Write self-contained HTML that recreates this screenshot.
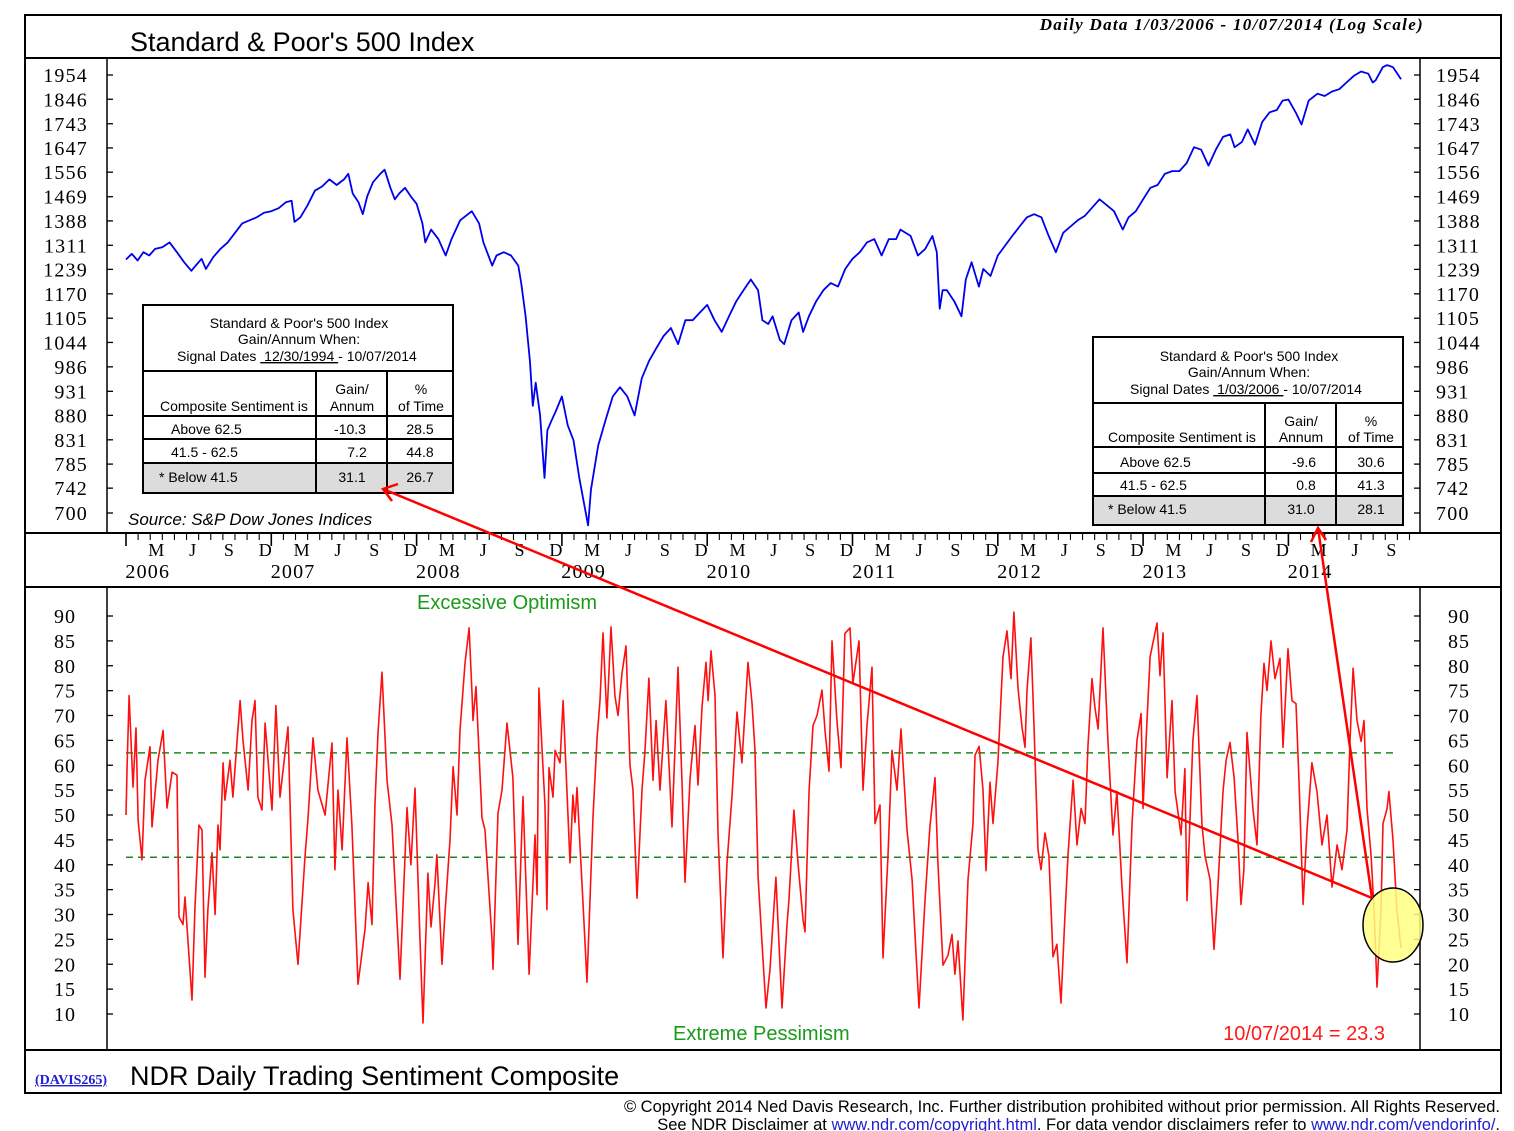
<!DOCTYPE html>
<html><head><meta charset="utf-8">
<style>
html,body{margin:0;padding:0;background:#fff;}
svg{display:block;}
text{font-family:"Liberation Sans",Arial,sans-serif;}
.serif{font-family:"Liberation Serif","Times New Roman",serif;}
</style></head>
<body>
<svg id="chart" width="1514" height="1131" viewBox="0 0 1514 1131" xmlns="http://www.w3.org/2000/svg">
<rect x="0" y="0" width="1514" height="1131" fill="#fff"/>
<rect x="25" y="15" width="1476" height="1078" fill="none" stroke="#000" stroke-width="2"/>
<line x1="25" y1="58" x2="1501" y2="58" stroke="#000" stroke-width="2"/>
<line x1="25" y1="533" x2="1501" y2="533" stroke="#000" stroke-width="2"/>
<line x1="25" y1="587" x2="1501" y2="587" stroke="#000" stroke-width="2"/>
<line x1="25" y1="1050" x2="1501" y2="1050" stroke="#000" stroke-width="2"/>
<line x1="107" y1="58" x2="107" y2="533" stroke="#000" stroke-width="1.5"/>
<line x1="1420" y1="58" x2="1420" y2="533" stroke="#000" stroke-width="1.5"/>
<line x1="107" y1="587" x2="107" y2="1050" stroke="#000" stroke-width="1.5"/>
<line x1="1420" y1="587" x2="1420" y2="1050" stroke="#000" stroke-width="1.5"/>

<text x="130" y="51" font-size="27">Standard &amp; Poor's 500 Index</text>
<text class="serif" x="1424" y="30" font-size="17" font-style="italic" font-weight="bold" text-anchor="end" letter-spacing="1.3">Daily Data 1/03/2006 - 10/07/2014 (Log Scale)</text>

<g id="topAxes"></g>
<g id="dateAxis"></g>
<g id="botAxes"></g>

<line id="th1" x1="126" x2="1397" stroke="#1a8a1a" stroke-width="1.5" stroke-dasharray="7,5"/>
<line id="th2" x1="126" x2="1397" stroke="#1a8a1a" stroke-width="1.5" stroke-dasharray="7,5"/>

<path id="spxLine" fill="none" stroke="#0000ee" stroke-width="1.8" stroke-linejoin="round"/>
<path id="sentLine" fill="none" stroke="#ff1010" stroke-width="1.6" stroke-linejoin="round"/>

<text x="417" y="609" font-size="20" fill="#1a9a1a">Excessive Optimism</text>
<text x="673" y="1040" font-size="20" fill="#1a9a1a">Extreme Pessimism</text>
<text x="1385" y="1040" font-size="20" fill="#ff1a1a" text-anchor="end">10/07/2014 = 23.3</text>
<text x="128" y="525" font-size="17" font-style="italic">Source: S&amp;P Dow Jones Indices</text>

<g font-size="14">
<rect x="143" y="463" width="310" height="30" fill="#dcdcdc"/>
<rect x="143" y="305" width="310" height="188" fill="none" stroke="#000" stroke-width="2"/>
<line x1="143" y1="371" x2="453" y2="371" stroke="#000" stroke-width="2"/>
<line x1="143" y1="416" x2="453" y2="416" stroke="#000" stroke-width="2"/>
<line x1="143" y1="439" x2="453" y2="439" stroke="#000" stroke-width="2"/>
<line x1="143" y1="463" x2="453" y2="463" stroke="#000" stroke-width="2"/>
<line x1="316" y1="371" x2="316" y2="493" stroke="#000" stroke-width="2"/>
<line x1="387" y1="371" x2="387" y2="493" stroke="#000" stroke-width="2"/>
<text x="299" y="328" text-anchor="middle">Standard &amp; Poor's 500 Index</text>
<text x="299" y="344" text-anchor="middle">Gain/Annum When:</text>
<text x="177" y="361">Signal Dates <tspan text-decoration="underline">&#160;12/30/1994&#160;</tspan>- 10/07/2014</text>
<text x="160" y="411">Composite Sentiment is</text>
<text x="352" y="394" text-anchor="middle">Gain/</text>
<text x="352" y="411" text-anchor="middle">Annum</text>
<text x="421" y="394" text-anchor="middle">%</text>
<text x="421" y="411" text-anchor="middle">of Time</text>
<text x="171" y="434">Above 62.5</text><text x="350" y="434" text-anchor="middle">-10.3</text><text x="420" y="434" text-anchor="middle">28.5</text>
<text x="171" y="457">41.5 - 62.5</text><text x="357" y="457" text-anchor="middle">7.2</text><text x="420" y="457" text-anchor="middle">44.8</text>
<text x="159" y="482">* Below 41.5</text><text x="352" y="482" text-anchor="middle">31.1</text><text x="420" y="482" text-anchor="middle">26.7</text>
</g>
<g font-size="14">
<rect x="1093" y="496" width="310" height="29" fill="#dcdcdc"/>
<rect x="1093" y="337" width="310" height="188" fill="none" stroke="#000" stroke-width="2"/>
<line x1="1093" y1="403" x2="1403" y2="403" stroke="#000" stroke-width="2"/>
<line x1="1093" y1="447" x2="1403" y2="447" stroke="#000" stroke-width="2"/>
<line x1="1093" y1="473" x2="1403" y2="473" stroke="#000" stroke-width="2"/>
<line x1="1093" y1="496" x2="1403" y2="496" stroke="#000" stroke-width="2"/>
<line x1="1265" y1="403" x2="1265" y2="525" stroke="#000" stroke-width="2"/>
<line x1="1336" y1="403" x2="1336" y2="525" stroke="#000" stroke-width="2"/>
<text x="1249" y="361" text-anchor="middle">Standard &amp; Poor's 500 Index</text>
<text x="1249" y="377" text-anchor="middle">Gain/Annum When:</text>
<text x="1130" y="394">Signal Dates <tspan text-decoration="underline">&#160;1/03/2006&#160;</tspan>- 10/07/2014</text>
<text x="1108" y="442">Composite Sentiment is</text>
<text x="1301" y="426" text-anchor="middle">Gain/</text>
<text x="1301" y="442" text-anchor="middle">Annum</text>
<text x="1371" y="426" text-anchor="middle">%</text>
<text x="1371" y="442" text-anchor="middle">of Time</text>
<text x="1120" y="467">Above 62.5</text><text x="1304" y="467" text-anchor="middle">-9.6</text><text x="1371" y="467" text-anchor="middle">30.6</text>
<text x="1120" y="490">41.5 - 62.5</text><text x="1306" y="490" text-anchor="middle">0.8</text><text x="1371" y="490" text-anchor="middle">41.3</text>
<text x="1108" y="514">* Below 41.5</text><text x="1301" y="514" text-anchor="middle">31.0</text><text x="1371" y="514" text-anchor="middle">28.1</text>
</g>

<ellipse cx="1393" cy="925" rx="30" ry="37" fill="#ffff80" fill-opacity="0.85" stroke="#000" stroke-width="1.5"/>
<g stroke="#ff0000" stroke-width="2.5" fill="none">
<line x1="1372" y1="898" x2="383" y2="489"/>
<polyline points="398,484 383,489 392,501"/>
<line x1="1372" y1="898" x2="1318" y2="528"/>
<polyline points="1311,542 1318,528 1326,540"/>
</g>

<text class="serif" x="35" y="1084" font-size="14" font-weight="bold" fill="#2020d0" text-decoration="underline">(DAVIS265)</text>
<text x="130" y="1085" font-size="27">NDR Daily Trading Sentiment Composite</text>
<text x="1500" y="1112" font-size="16.5" text-anchor="end">© Copyright 2014 Ned Davis Research, Inc.  Further distribution prohibited without prior permission.  All Rights Reserved.</text>
<text x="1500" y="1130" font-size="16.5" text-anchor="end">See NDR Disclaimer at <tspan fill="#2020d0" text-decoration="underline">www.ndr.com/copyright.html</tspan>. For data vendor disclaimers refer to <tspan fill="#2020d0" text-decoration="underline">www.ndr.com/vendorinfo/</tspan>.</text>
</svg>
<script>
// ---- data ----
const spxTicks = [1954,1846,1743,1647,1556,1469,1388,1311,1239,1170,1105,1044,986,931,880,831,785,742,700];
const sentTicks = [90,85,80,75,70,65,60,55,50,45,40,35,30,25,20,15,10];
const thresholds = [62.5, 41.5];
const yearLabels = ["2006","2007","2008","2009","2010","2011","2012","2013","2014"];
const monthLabels = ["M","J","S","D"];
// S&P 500 (years since 2006-01-01, level)
const spxDates = [0,.04,.08,.12,.16,.2,.25,.3,.35,.4,.45,.48,.52,.55,.6,.65,.7,.75,.8,.85,.9,.95,
1,1.05,1.1,1.14,1.16,1.2,1.25,1.3,1.35,1.4,1.45,1.5,1.53,1.56,1.6,1.63,1.66,1.7,1.75,1.78,1.82,1.85,1.88,1.92,1.96,
2,2.04,2.06,2.1,2.15,2.2,2.24,2.3,2.38,2.43,2.46,2.52,2.55,2.6,2.65,2.7,2.72,2.75,2.78,2.8,2.82,2.85,2.88,2.9,2.93,2.96,
3,3.04,3.08,3.12,3.18,3.2,3.25,3.3,3.35,3.4,3.45,3.5,3.55,3.6,3.65,3.7,3.75,3.8,3.85,3.9,3.95,
4,4.05,4.1,4.15,4.2,4.25,4.3,4.35,4.38,4.42,4.45,4.5,4.53,4.58,4.63,4.66,4.7,4.75,4.8,4.85,4.9,4.95,
5,5.05,5.1,5.15,5.2,5.25,5.3,5.33,5.4,5.45,5.5,5.55,5.58,5.6,5.62,5.65,5.7,5.75,5.78,5.82,5.87,5.9,5.95,
6,6.05,6.1,6.15,6.2,6.25,6.3,6.35,6.4,6.45,6.5,6.55,6.6,6.7,6.75,6.8,6.86,6.9,6.95,
7,7.05,7.1,7.15,7.2,7.25,7.3,7.35,7.4,7.45,7.5,7.55,7.6,7.63,7.68,7.72,7.77,7.82,7.87,7.92,7.96,
8,8.05,8.09,8.14,8.2,8.25,8.3,8.35,8.4,8.45,8.5,8.55,8.58,8.6,8.65,8.68,8.72,8.75,8.775];
const spxValues = [1268,1285,1265,1290,1280,1300,1305,1320,1290,1260,1235,1250,1270,1240,1275,1300,1320,1350,1380,1390,1400,1415,
1420,1430,1450,1455,1385,1400,1440,1490,1505,1530,1510,1530,1550,1480,1450,1410,1470,1520,1550,1565,1500,1460,1480,1500,1470,
1445,1380,1320,1360,1330,1280,1330,1390,1420,1380,1320,1250,1280,1290,1280,1250,1200,1110,1000,900,950,880,760,850,870,890,
920,860,830,760,680,740,820,870,920,940,920,880,960,1000,1030,1060,1080,1040,1100,1100,1120,
1140,1100,1070,1110,1150,1180,1210,1180,1100,1090,1110,1050,1040,1100,1120,1070,1110,1150,1180,1200,1190,1240,
1270,1290,1320,1330,1280,1330,1330,1360,1340,1280,1300,1340,1290,1130,1180,1180,1150,1110,1210,1260,1190,1240,1220,
1280,1310,1340,1370,1400,1410,1400,1340,1290,1350,1370,1390,1405,1460,1440,1420,1360,1400,1420,
1460,1500,1510,1550,1560,1560,1590,1650,1640,1580,1640,1690,1700,1650,1670,1720,1660,1750,1790,1800,1840,
1845,1790,1740,1840,1870,1860,1880,1890,1920,1950,1970,1960,1920,1930,1990,2000,1990,1960,1935];
// Sentiment composite (years since 2006-01-01, value)
const sentDates = [0,.007,.021,.048,.069,.083,.11,.131,.165,.179,.22,.255,.282,.317,.351,.365,.392,.406,.454,.475,.502,.523,.544,.564,.592,.613,.633,.647,.668,.681,.716,.736,.764,.785,.805,.84,.867,.888,.908,.936,.957,
1.005,1.032,1.06,1.115,1.149,1.184,1.232,1.253,1.287,1.321,1.37,1.418,1.438,1.459,1.487,1.521,1.555,1.597,1.645,1.666,1.693,1.714,1.734,1.762,1.796,1.831,1.886,1.92,1.934,1.961,1.989,
2.023,2.044,2.078,2.099,2.127,2.14,2.175,2.195,2.23,2.251,2.278,2.299,2.333,2.361,2.381,2.388,2.409,2.45,2.471,2.519,2.526,2.56,2.588,2.622,2.663,2.698,2.732,2.774,2.815,2.829,2.842,2.884,2.897,2.911,2.939,2.953,2.987,
3.008,3.056,3.076,3.09,3.104,3.145,3.173,3.214,3.242,3.262,3.283,3.31,3.338,3.365,3.386,3.414,3.441,3.469,3.489,3.517,3.551,3.572,3.599,3.627,3.648,3.675,3.716,3.758,3.799,3.827,3.847,3.882,3.916,3.937,3.964,3.992,
4.006,4.026,4.054,4.074,4.109,4.136,4.171,4.205,4.239,4.281,4.308,4.329,4.35,4.384,4.405,4.432,4.473,4.515,4.549,4.563,4.597,4.625,4.659,4.673,4.701,4.728,4.756,4.79,4.811,4.838,4.859,4.893,4.921,4.948,4.983,
5.003,5.045,5.072,5.1,5.134,5.155,5.189,5.21,5.244,5.272,5.306,5.334,5.375,5.41,5.43,5.458,5.499,5.533,5.568,5.588,5.623,5.657,5.685,5.705,5.726,5.76,5.795,5.829,5.843,5.871,5.898,5.919,5.946,5.967,
6.001,6.036,6.063,6.091,6.111,6.139,6.167,6.187,6.201,6.228,6.249,6.277,6.297,6.325,6.352,6.38,6.407,6.435,6.462,6.483,6.518,6.545,6.573,6.6,6.621,6.648,6.669,6.69,6.724,6.758,6.793,6.82,6.855,6.889,6.924,6.958,6.986,6.999,
7.027,7.048,7.096,7.116,7.137,7.165,7.199,7.22,7.233,7.261,7.288,7.302,7.343,7.371,7.405,7.426,7.461,7.488,7.515,7.55,7.571,7.598,7.626,7.653,7.674,7.694,7.715,7.756,7.784,7.811,7.832,7.853,7.88,7.908,7.942,7.963,7.997,
8.025,8.052,8.073,8.101,8.128,8.162,8.197,8.231,8.266,8.3,8.335,8.369,8.403,8.424,8.445,8.472,8.5,8.52,8.541,8.569,8.589,8.61,8.637,8.651,8.679,8.692,8.72,8.747,8.775];
const sentValues = [50,59,74,55.6,67.5,49,41,57,63.7,47.6,61,67,51.4,58.6,58,29.5,28,33.5,12.8,31.5,48,47,17.4,31,42.4,30,48,43,60.5,53,61,53.6,64.7,73,65,55,69,73,53.6,51,68.5,
51,72,53.6,67.7,31,20,41.6,49.6,65.5,55,50,64.5,39,55,43,65.5,48,16,27,36.4,28,52.4,66.5,78.7,57,48,17,41.6,51.5,40,55.4,
25.5,8.2,38.3,27.5,36.5,42,20,30,45,59.7,50,67,80.5,87.6,74.5,69,75.8,49.4,47,25,19,50.4,55,68.5,57.5,24,53.7,18,46,34,75.5,51.8,31,59.5,53.6,63,60.5,
73,40.4,54,48.5,55.5,32.3,16.4,49.6,65.6,73,86.6,69.5,87.8,74,70,78.7,84,60,55,33.3,55,63,77.5,57,69,55,73,47.6,79.7,56,36.5,57.5,68,56,71.7,80.7,
73,83,74,46.4,21.3,40.4,53.8,70.7,60.5,80.7,72.5,63,37.5,21,11.2,19,37.5,11.2,28,33,51,40.4,29,26.5,55,68,70,75.1,67,58.8,85,68.8,59.5,86.5,87.6,
76.5,85,55,68,79.7,48.3,52,21.3,41.8,63,55,67.3,47,37,26,11.2,32.8,47.6,57.5,40.4,19.8,21.8,26,18,24.7,8.8,37,48.3,62,63.8,55,38.8,56.6,48.3,
60.5,81.8,87,77.4,90.8,75.5,67.5,63.6,75,85.6,68,43,39,46.4,41.8,21.5,24,12.2,29.6,42,57,44,51.3,48.3,64,77.4,71.5,67.3,87.6,65,46,54.7,35.5,20.3,48.6,65,70.4,51.3,
69,81.8,88.6,78,86.6,57.5,73,54.7,52,46,59.3,32.8,65,74,48.3,41.8,37,23,35.5,54.7,61,64.6,57.5,45,32,39,66.6,51.3,44,70,80.5,75,85,77.4,81.5,63.6,83.4,
73,72.4,56.8,32,47,60.5,54.7,44,50,35.5,44,39,47,65,79.5,69,64.8,69,51.3,41.8,31,15.4,31,48.3,51.3,54.7,45,31,23.3];

// ---- scales ----
const X0 = 126, PX_PER_YEAR = 145.3;
function xScale(t){ return X0 + t * PX_PER_YEAR; }
const SPX_TOP = 1954, SPX_BOT = 700, SPX_Y0 = 75, SPX_Y1 = 513;
function ySpx(p){ return SPX_Y0 + (Math.log(SPX_TOP) - Math.log(p)) / (Math.log(SPX_TOP) - Math.log(SPX_BOT)) * (SPX_Y1 - SPX_Y0); }
const SENT_TOP = 90, SENT_BOT = 10, SENT_Y0 = 616, SENT_Y1 = 1014;
function ySent(v){ return SENT_Y0 + (SENT_TOP - v) / (SENT_TOP - SENT_BOT) * (SENT_Y1 - SENT_Y0); }

const NS = "http://www.w3.org/2000/svg";
function mk(tag, attrs, parent){ const e = document.createElementNS(NS, tag); for (const k in attrs) e.setAttribute(k, attrs[k]); parent.appendChild(e); return e; }

const topG = document.getElementById('topAxes');
spxTicks.forEach(v => {
  const y = ySpx(v);
  const tl = mk('line', {x1:107, x2:113, y1:y, y2:y, stroke:'#000', 'stroke-width':1.3}, topG);
  
  
  const tr = mk('line', {x1:1414, x2:1420, y1:y, y2:y, stroke:'#000', 'stroke-width':1.3}, topG);
  
  
  const a = mk('text', {x:88, y:y+7, 'font-size':20, 'text-anchor':'end', class:'serif', 'letter-spacing':'1.2'}, topG);
  a.textContent = v;
  
  
  const b = mk('text', {x:1436, y:y+7, 'font-size':20, class:'serif', 'letter-spacing':'1.2'}, topG);
  b.textContent = v;
  
  
});

const botG = document.getElementById('botAxes');
sentTicks.forEach(v => {
  const y = ySent(v);
  const tl = mk('line', {x1:107, x2:113, y1:y, y2:y, stroke:'#000', 'stroke-width':1.3}, botG);
  
  
  const tr = mk('line', {x1:1414, x2:1420, y1:y, y2:y, stroke:'#000', 'stroke-width':1.3}, botG);
  
  
  const a = mk('text', {x:76, y:y+7, 'font-size':20, 'text-anchor':'end', class:'serif', 'letter-spacing':'1'}, botG);
  a.textContent = v;
  
  
  const b = mk('text', {x:1448, y:y+7, 'font-size':20, class:'serif', 'letter-spacing':'1'}, botG);
  b.textContent = v;
  
  
});
document.getElementById('th1').setAttribute('y1', ySent(thresholds[0]));
document.getElementById('th1').setAttribute('y2', ySent(thresholds[0]));
document.getElementById('th2').setAttribute('y1', ySent(thresholds[1]));
document.getElementById('th2').setAttribute('y2', ySent(thresholds[1]));

const dG = document.getElementById('dateAxis');
for (let m = 0; m <= 9*12 - 2; m++) {
  const x = xScale(m / 12);
  const major = (m % 12 === 0);
  const t = mk('line', {x1:x, x2:x, y1:534, y2: major ? 546 : 540, stroke:'#000', 'stroke-width': major ? 1.6 : 1.1}, dG);
  
  
}
yearLabels.forEach((lab, i) => {
  for (let q = 0; q < 4; q++) {
    const t = i + (2 + q*3 + 0.5) / 12;
    if (t > 8.8) continue;
    const m = mk('text', {x:xScale(t), y:556, 'font-size':18, 'text-anchor':'middle', class:'serif'}, dG);
    m.textContent = monthLabels[q];
    
    
  }
  const yl = mk('text', {x:xScale(i + 0.15), y:578, 'font-size':20, 'text-anchor':'middle', class:'serif', 'letter-spacing':'1.2'}, dG);
  yl.textContent = lab;
  
  
});

let d = '';
spxDates.forEach((t, i) => { d += (i ? 'L' : 'M') + xScale(t).toFixed(1) + ',' + ySpx(spxValues[i]).toFixed(1); });
document.getElementById('spxLine').setAttribute('d', d);
d = '';
sentDates.forEach((t, i) => { d += (i ? 'L' : 'M') + xScale(t).toFixed(1) + ',' + ySent(sentValues[i]).toFixed(1); });
document.getElementById('sentLine').setAttribute('d', d);
</script>
</body></html>
